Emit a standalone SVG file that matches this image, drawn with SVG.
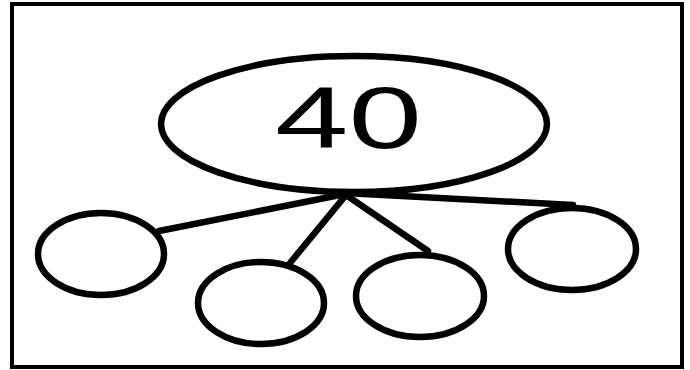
<svg xmlns="http://www.w3.org/2000/svg" width="690" height="370" viewBox="0 0 690 370">
<style>
.frame{fill:#fff;stroke:#000;stroke-width:4}
.node{fill:#fff;stroke:#000;stroke-width:6.5}
.edge{stroke:#000;stroke-width:6.5;stroke-linecap:round;fill:none}
.lbl{font-family:"Liberation Sans",Arial,sans-serif;font-size:88px;fill:#000}
</style>
<rect class="frame" x="12" y="4" width="670" height="363"/>
<g id="edges">
<line class="edge" x1="345" y1="194" x2="159" y2="231"/>
<line class="edge" x1="346" y1="195" x2="290" y2="263"/>
<line class="edge" x1="346" y1="195" x2="428" y2="251"/>
<line class="edge" x1="345" y1="193" x2="573" y2="205"/>
</g>
<g id="root">
<ellipse class="node" cx="354" cy="124" rx="193" ry="68"/>
<text class="lbl" transform="translate(348.5 148) scale(1.5 1)" text-anchor="middle">40</text>
</g>
<g id="c1"><ellipse class="node" cx="101" cy="254" rx="63" ry="41"/></g>
<g id="c2"><ellipse class="node" cx="261" cy="303" rx="63" ry="41"/></g>
<g id="c3"><ellipse class="node" cx="420" cy="296" rx="64" ry="41"/></g>
<g id="c4"><ellipse class="node" cx="572" cy="249" rx="64" ry="41"/></g>
</svg>
